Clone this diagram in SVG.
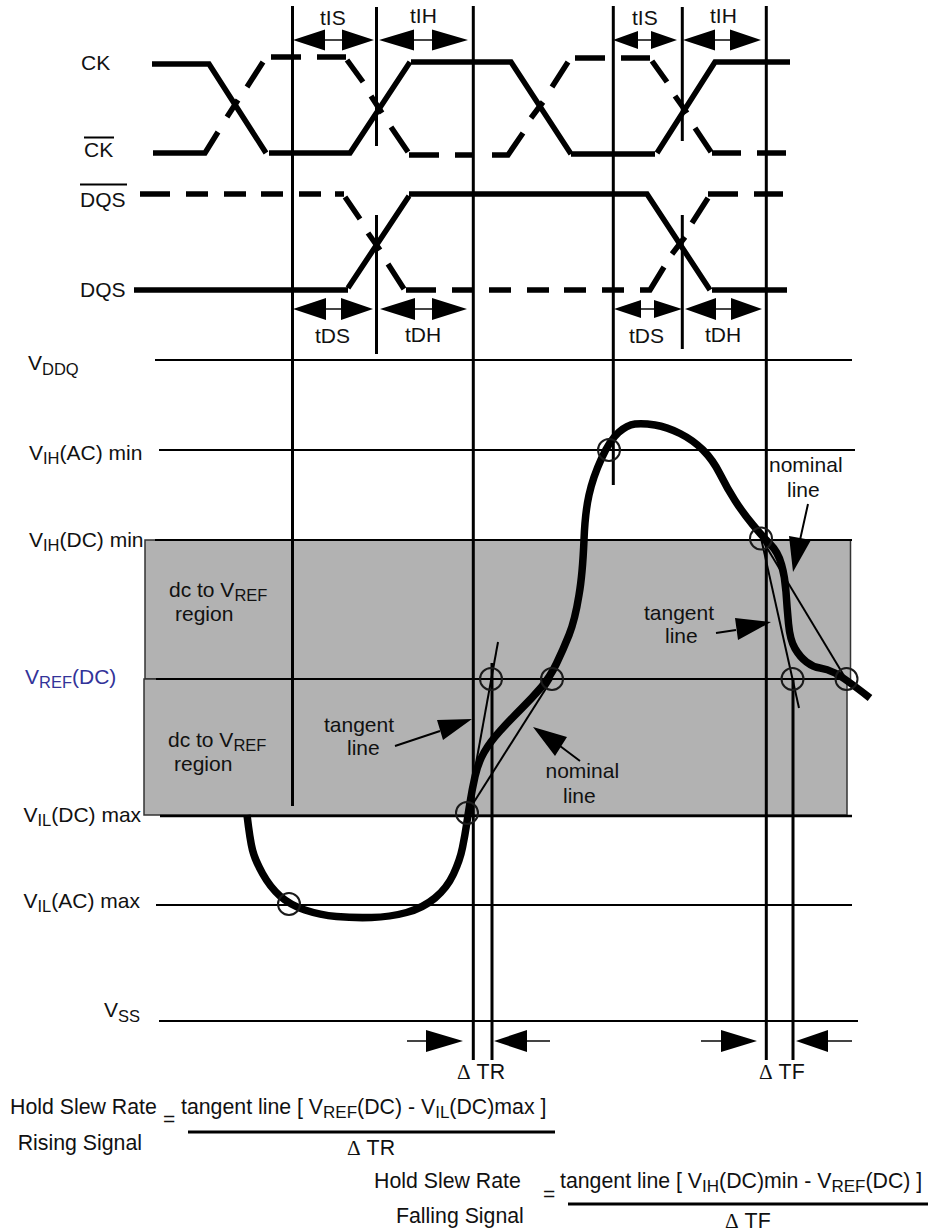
<svg xmlns="http://www.w3.org/2000/svg" width="928" height="1232" viewBox="0 0 928 1232">
<style>
text{font-family:"Liberation Sans",Arial,sans-serif;font-size:21px;fill:#111}
.sm{font-size:16.500px}
.f{font-size:21.300px}
.f .sm{font-size:17px}
.d{font-family:"Liberation Serif",serif}
.blue,.blue tspan{fill:#333399}
.v{stroke:#000;stroke-width:3;fill:none}
.h{stroke:#000;stroke-width:2;fill:none}
.w{stroke:#000;stroke-width:5.500;fill:none;stroke-linejoin:miter}
.c{stroke:#1a1a1a;stroke-width:2;fill:none}
.t{stroke:#000;stroke-width:2;fill:none}
.s{stroke:#444;stroke-width:2;fill:none}
.a{fill:#000;stroke:none}
.r{fill:#b2b2b2;stroke:#333;stroke-width:1.500}
</style>
<rect width="928" height="1232" fill="#fff"/>
<g id="region-upper"><rect class="r" x="145" y="540" width="705.500" height="139"/></g>
<g id="region-lower"><rect class="r" x="144" y="679" width="703" height="136"/></g>
<g id="connectors">
<g id="levels">
<line class="h" x1="155" y1="360" x2="852" y2="360"/>
<line class="h" x1="159" y1="450" x2="855" y2="450"/>
<line class="h" x1="155" y1="540" x2="852" y2="540"/>
<line class="h" x1="156" y1="679" x2="848" y2="679"/>
<line class="h" style="stroke-width:2.500" x1="160" y1="816" x2="852" y2="816"/>
<line class="h" x1="156" y1="905" x2="852" y2="905"/>
<line class="h" x1="159" y1="1021" x2="858" y2="1021"/>
</g>
<g id="verticals">
<line class="v" x1="292.500" y1="6" x2="292.500" y2="806"/>
<line class="v" x1="376.500" y1="7" x2="376.500" y2="146"/>
<line class="v" x1="376.500" y1="215" x2="376.500" y2="354"/>
<line class="v" x1="473.300" y1="6" x2="473.300" y2="1060"/>
<line class="v" x1="492" y1="663" x2="492" y2="1060"/>
<line class="v" x1="613.300" y1="6" x2="613.300" y2="485"/>
<line class="v" x1="682.300" y1="7" x2="682.300" y2="141"/>
<line class="v" x1="682.300" y1="215" x2="682.300" y2="349"/>
<line class="v" x1="766.300" y1="6" x2="766.300" y2="1060"/>
<line class="v" x1="793" y1="680" x2="793" y2="1060"/>
</g>
<g id="ck-waves">
<path class="w" d="M152 64H209L266 153M269 153H350L410 62M411 62H511L571 154M571 154H655M657 153L715 62H790"/>
<path class="w" d="M153 153H205L218 132M227 117L238 100M247 87L263 62M271 57H301M317 57H346M347 60L363 82M371 96L382 113M391 127L408 152M409 155H439M455 155H474M492 155H508L523 133M531 118L543 102M552 87L568 62M575 58H605M621 58H650M652 61L667 82M675 96L687 113M695 128L711 152M712 153H741M757 153H786"/>
</g>
<g id="dqs-waves">
<path class="w" d="M140 194H170M186 194H208M224 194H246M261 194H283M299 194H321M335 194H344M345 197L360 219M368 233L380 250M388 264L404 289M406 290H436M452 290H473M489 290H511M527 290H549M564 290H586M602 290H624M640 290H650L664 267M672 254L685 237M692 223L708 198M708 194H738M754 194H783"/>
<path class="w" d="M134 290H348M348 288L409 196M409 194H647L710 290M712 290H787"/>
</g>
<g id="timing-arrows">
<path class="s" d="M325 40H342M414 40H432M638 40H651M715 40H730M326 309H341M415 309H432M641 309H654M716 309H731"/>
<path class="a" d="M293 40L325 29.500V50.500ZM374 40L342 29.500V50.500ZM379 40L414 29.500V50.500ZM468 40L432 29.500V50.500ZM613 40L638 31V49ZM677 40L651 31V49ZM683 40L715 29.500V50.500ZM761 40L730 29.500V50.500ZM293 309L326 298V320ZM373 309L341 298V320ZM380 309L415 298V320ZM467 309L432 298V320ZM614 309L641 300V318ZM682 309L654 300V318ZM685 309L716 298V320ZM762 309L731 298V320Z"/>
<path class="s" d="M407 1041H426M527 1041H550M701 1041H721M828 1041H852"/>
<path class="a" d="M463 1041L426 1030V1052ZM494 1041L527 1030V1052ZM757 1041L721 1030V1052ZM796 1041L828 1030V1052Z"/>
</g>
<g id="tangents">
<line class="t" x1="467" y1="813" x2="498" y2="642"/>
<line class="t" x1="467" y1="813" x2="552" y2="679"/>
<line class="t" x1="761" y1="538" x2="799" y2="708"/>
<line class="t" x1="761" y1="538" x2="846" y2="679"/>
</g>
<g id="callouts">
<path class="t" d="M395 746L440 731M580 761L560 746M808 504L800 540M716 633L736 630"/>
<path class="a" d="M472 719L437 720L443 740ZM533 727L567 737L555 756ZM793 572L789 536L811 540ZM771 622L735 618L738 640Z"/>
</g>
<path id="signal" fill="none" stroke="#000" stroke-width="7.500" d="M247 815Q250 840 252.500 850Q255 860 262.500 873.500Q270 887 280 896Q290 905 305 910Q320 915 336.500 916.500Q353 918 371.500 917.500Q390 917 406.500 912.500Q423 908 435 898Q447 888 453.500 874Q460 860 462.500 847.500Q465 835 466.500 825Q468 815 470 802.500Q472 790 475 776.500Q478 763 484 752.500Q490 742 500 731Q510 720 521.500 708.500Q533 697 541.500 687Q550 677 556.500 663.500Q563 650 569 635Q575 620 579 595Q582.500 575 584 540Q585 513 589 495Q593 477 601.500 458.500Q610 440 618.500 432.500Q627 425 635 424Q643 423 655 425Q667 427 680 433.500Q693 440 703 450Q713 460 720 474Q727 488 735 500.500Q743 513 753 525Q763 537 770.500 544.500Q778 552 781.500 564.500Q785 577 786 592Q787 607 788.500 623.500Q790 640 795 648.500Q800 657 806.500 662Q813 667 820 668Q827 669 835 673Q843 677 870 698"/>
<g id="markers">
<circle class="c" cx="289" cy="904" r="11"/>
<circle class="c" cx="609" cy="450" r="11"/>
<circle class="c" cx="467" cy="813" r="11"/>
<circle class="c" cx="491" cy="679" r="11"/>
<circle class="c" cx="552" cy="679" r="11"/>
<circle class="c" cx="761" cy="538.500" r="11"/>
<circle class="c" cx="792.500" cy="679" r="11"/>
<circle class="c" cx="846.500" cy="679" r="11"/>
</g>
</g>
<g id="labels">
<text x="81" y="70">CK</text>
<text x="84" y="157">CK</text><line class="t" x1="84" y1="137.500" x2="114" y2="137.500"/>
<text x="80" y="207">DQS</text><line class="t" x1="80" y1="184.500" x2="127" y2="184.500"/>
<text x="80" y="297">DQS</text>
<text x="320" y="25">tIS</text><text x="410" y="23">tIH</text>
<text x="632" y="25">tIS</text><text x="710" y="23">tIH</text>
<text x="315" y="343">tDS</text><text x="405" y="342">tDH</text>
<text x="629" y="343">tDS</text><text x="705" y="342">tDH</text>
<text x="28" y="370">V<tspan class="sm" dy="5">DDQ</tspan></text>
<text x="29" y="460">V<tspan class="sm" dy="4">IH</tspan><tspan dy="-4">(AC) min</tspan></text>
<text x="29" y="547">V<tspan class="sm" dy="4">IH</tspan><tspan dy="-4">(DC) min</tspan></text>
<text class="blue" x="25" y="684">V<tspan class="sm" dy="4">REF</tspan><tspan dy="-4">(DC)</tspan></text>
<text x="23.500" y="821.500">V<tspan class="sm" dy="4">IL</tspan><tspan dy="-4">(DC) max</tspan></text>
<text x="23.500" y="908">V<tspan class="sm" dy="4">IL</tspan><tspan dy="-4">(AC) max</tspan></text>
<text x="104" y="1017">V<tspan class="sm" dy="5">SS</tspan></text>
<text x="169" y="597">dc to V<tspan class="sm" dy="4">REF</tspan></text><text x="175" y="621">region</text>
<text x="168" y="747">dc to V<tspan class="sm" dy="4">REF</tspan></text><text x="174" y="771">region</text>
<text x="324" y="732">tangent</text><text x="347" y="755">line</text>
<text x="545.500" y="778">nominal</text><text x="563" y="803">line</text>
<text x="644" y="620">tangent</text><text x="665" y="643">line</text>
<text x="769" y="472">nominal</text><text x="787" y="497">line</text>
<g id="formulas">
<text class="f" x="457" y="1079"><tspan class="d">Δ</tspan> TR</text>
<text class="f" x="759" y="1079"><tspan class="d">Δ</tspan> TF</text>
<text class="f" x="10" y="1114">Hold Slew Rate</text>
<text class="f" x="17.700" y="1150">Rising Signal</text>
<text class="f" x="181" y="1114">tangent line [ V<tspan class="sm" dy="4">REF</tspan><tspan dy="-4">(DC) - V</tspan><tspan class="sm" dy="4">IL</tspan><tspan dy="-4">(DC)max ]</tspan></text>
<text class="f" x="347" y="1155"><tspan class="d">Δ</tspan> TR</text>
<text class="f" x="374" y="1188">Hold Slew Rate</text>
<text class="f" x="396" y="1223">Falling Signal</text>
<text class="f" x="560" y="1188">tangent line [ V<tspan class="sm" dy="4">IH</tspan><tspan dy="-4">(DC)min - V</tspan><tspan class="sm" dy="4">REF</tspan><tspan dy="-4">(DC) ]</tspan></text>
<text class="f" x="725" y="1228"><tspan class="d">Δ</tspan> TF</text>
<text x="163" y="1126">=</text>
<text x="543" y="1201">=</text>
<line x1="188" y1="1132" x2="555" y2="1132" stroke="#000" stroke-width="3"/>
<line x1="568" y1="1204" x2="928" y2="1204" stroke="#000" stroke-width="3"/>
</g>
</g>
</svg>
